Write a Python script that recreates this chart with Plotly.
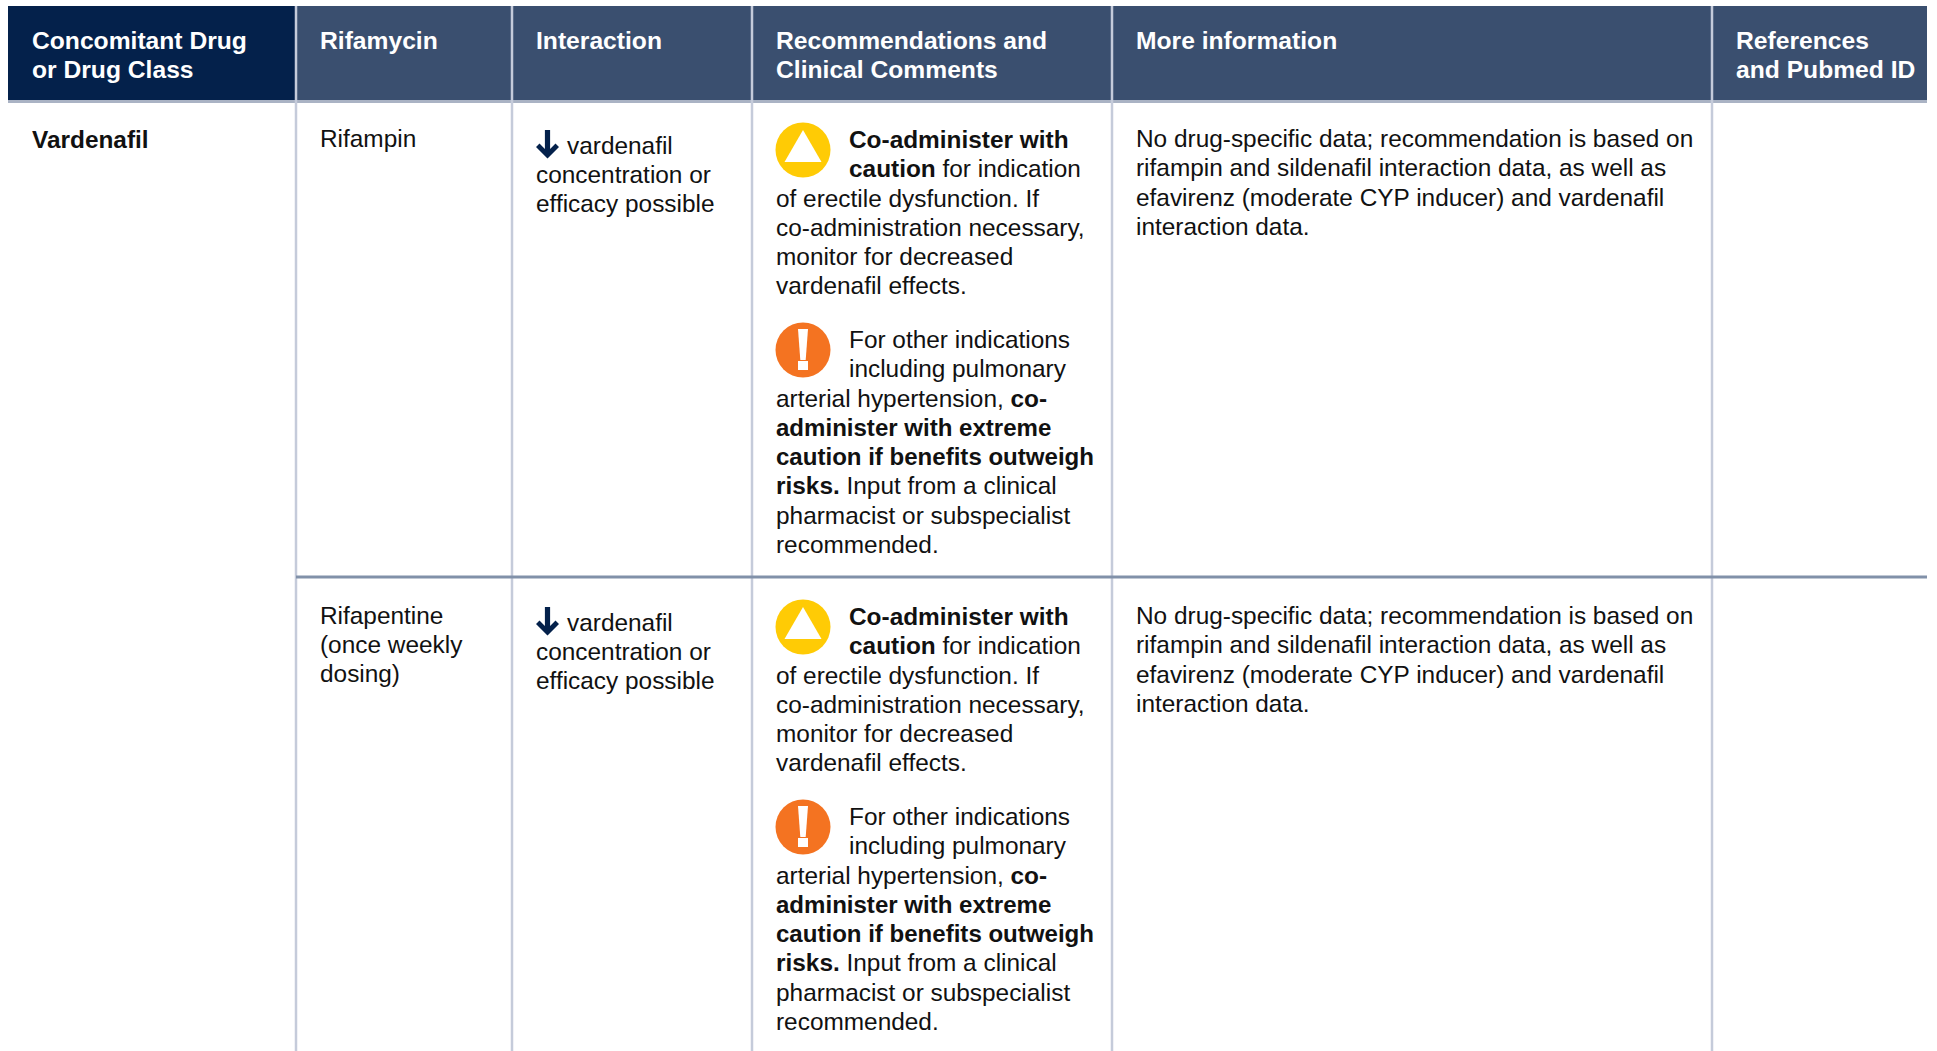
import plotly.graph_objects as go

W, H = 1937, 1051
FONT = "Liberation Sans"
NAVY = "#04214b"; SLATE = "#3a4f6f"; RULE = "#c5cbda"; ROW_RULE = "#8191a9"; INK = "#111111"

col_edges = [8, 296, 512, 752, 1112, 1712, 1927]
text_x = [30, 318, 534, 774, 1134, 1734]
header_top, header_bottom, strip_bottom = 6, 100, 103
row_rule_y = 577
row_offset = 477

headers = [
    ["Concomitant Drug", "or Drug Class"],
    ["Rifamycin"],
    ["Interaction"],
    ["Recommendations and", "Clinical Comments"],
    ["More information"],
    ["References", "and Pubmed ID"],
]
drug = "Vardenafil"
rifamycin_rows = [["Rifampin"], ["Rifapentine", "(once weekly", "dosing)"]]
interaction_lines = ["vardenafil", "concentration or", "efficacy possible"]
caution_lines = ["<b>Co-administer with</b>", "<b>caution</b> for indication"]
caution_rest = ["of erectile dysfunction. If", "co-administration necessary,", "monitor for decreased", "vardenafil effects."]
extreme_lines = ["For other indications", "including pulmonary"]
extreme_rest = ["arterial hypertension, <b>co-</b>", "<b>administer with extreme</b>",
                "<b>caution if benefits outweigh</b>", "<b>risks.</b> Input from a clinical",
                "pharmacist or subspecialist", "recommended."]
more_info = ["No drug-specific data; recommendation is based on",
             "rifampin and sildenafil interaction data, as well as",
             "efavirenz (moderate CYP inducer) and vardenafil",
             "interaction data."]

LH = 29.3
FS = 24.4
FS_HEAD = 24.65
FS_BOLD = 24.05
fig = go.Figure()
shapes, ann = [], []

def text(x, y, s, color=INK, size=None):
    if size is None:
        size = FS_BOLD if (s.startswith("<b>") and s.endswith("</b>") and "with</b>" not in s) else FS
    ann.append(dict(x=x, y=y, text=s, showarrow=False, xanchor="left", yanchor="middle", xref="x", yref="y",
                    font=dict(family=FONT, size=size, color=color), align="left"))

def lines(x, y0, items, **k):
    for i, s in enumerate(items):
        text(x, y0 + i * LH, s, **k)

# header
for i in range(6):
    shapes.append(dict(type="rect", x0=col_edges[i], x1=col_edges[i + 1], y0=header_top, y1=header_bottom,
                       fillcolor=NAVY if i == 0 else SLATE, line_width=0, layer="below"))
    for j, s in enumerate(headers[i]):
        text(text_x[i], 40 + j * LH, f"<b>{s}</b>", color="white", size=FS_HEAD)
shapes.append(dict(type="rect", x0=col_edges[0], x1=col_edges[-1], y0=header_bottom, y1=strip_bottom,
                   fillcolor="#aab3c4", line_width=0, layer="below"))
# column rules
for x in col_edges[1:-1]:
    shapes.append(dict(type="line", x0=x, x1=x, y0=header_top, y1=H, line=dict(color=RULE, width=2.5), layer="below"))
shapes.append(dict(type="line", x0=col_edges[1], x1=col_edges[-1], y0=row_rule_y, y1=row_rule_y,
                   line=dict(color=ROW_RULE, width=3), layer="below"))

text(text_x[0], 139, f"<b>{drug}</b>", size=FS)

circ_x, circ_y, circ_c = [], [], []
for r, off in enumerate([0, row_offset]):
    lines(text_x[1], 138 + off, rifamycin_rows[r])
    text(565, 145 + off, interaction_lines[0])
    lines(text_x[2], 174.3 + off, interaction_lines[1:])
    # down arrow
    ax = 547.5
    t = off
    shapes.append(dict(type="path", fillcolor=NAVY, line_width=0,
        path=f"M {ax-2.6} {130+t} L {ax+2.6} {130+t} L {ax+2.6} {149+t} L {ax+8} {143.5+t} L {ax+11.5} {147+t} "
             f"L {ax} {158.5+t} L {ax-11.5} {147+t} L {ax-8} {143.5+t} L {ax-2.6} {149+t} Z"))
    lines(847, 139 + off, caution_lines)
    lines(text_x[3], 198 + off, caution_rest)
    lines(847, 339 + off, extreme_lines)
    lines(text_x[3], 398 + off, extreme_rest)
    lines(text_x[4], 138.5 + off, more_info)
    circ_x += [803, 803]; circ_y += [150 + off, 350 + off]; circ_c += ["#ffcb05", "#f47321"]
    # white triangle in the caution icon
    ex = 803
    shapes.append(dict(type="path", fillcolor="white", line_width=0,
        path=f"M {ex} {130+off} L {ex+18.5} {162+off} L {ex-18.5} {162+off} Z"))
    # exclamation mark
    shapes.append(dict(type="path", fillcolor="white", line_width=0,
        path=f"M {ex-5} {329+off} L {ex+5} {329+off} L {ex+2.7} {360+off} L {ex-2.7} {360+off} Z"))
    shapes.append(dict(type="rect", x0=ex-5, x1=ex+5, y0=361+off, y1=370+off, fillcolor="white", line_width=0))

fig.add_trace(go.Scatter(x=circ_x, y=circ_y, mode="markers", hoverinfo="skip",
                         marker=dict(size=55, color=circ_c, line_width=0)))

fig.update_layout(width=W, height=H, margin=dict(l=0, r=0, t=0, b=0), paper_bgcolor="white", plot_bgcolor="white",
                  showlegend=False, shapes=shapes, annotations=ann,
                  xaxis=dict(range=[0, W], visible=False, fixedrange=True),
                  yaxis=dict(range=[H, 0], visible=False, fixedrange=True))
fig.write_html("out.html", config=dict(displayModeBar=False),
               post_script="document.body.style.margin='0';document.body.style.overflow='hidden';")
